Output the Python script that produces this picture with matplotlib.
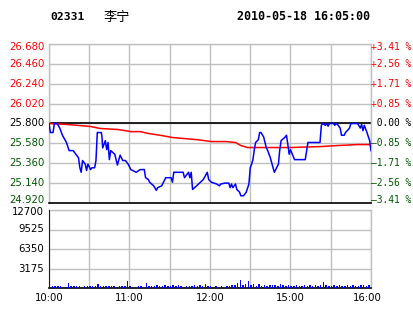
import matplotlib
matplotlib.use("Agg")
import matplotlib.pyplot as plt
import matplotlib.transforms as mtransforms

# ---------------- data ----------------
prev_close = 25.80
price_levels = [24.92, 25.14, 25.36, 25.58, 25.80, 26.02, 26.24, 26.46, 26.68]
pct_labels = ["-3.41 %", "-2.56 %", "-1.71 %", "-0.85 %", " 0.00 %",
              "+0.85 %", "+1.71 %", "+2.56 %", "+3.41 %"]
vol_levels = [0, 3175, 6350, 9525, 12700]
time_ticks = [0, 60, 120, 180, 240]
time_labels = ["10:00", "11:00", "12:00", "15:00", "16:00"]

price_t = [0, 1, 3, 4, 6, 8, 10, 13, 15, 18, 19, 22, 23, 24, 25, 27, 28, 29, 31, 32,
           34, 35, 36, 39, 39.5, 40, 42, 43, 44, 45, 46, 49, 51, 53, 55, 57, 59, 61, 65, 68,
           71, 72, 74, 75, 78, 80, 81, 84, 87, 91, 92, 93, 100, 101, 104, 105, 106, 107, 110, 115,
           118, 119, 121, 125, 127, 128, 131, 134, 135, 136, 137, 139, 140, 142, 143, 145, 147, 149, 150, 151,
           152, 153, 154, 156, 157, 158, 160, 162, 163, 165, 167, 168, 171, 172, 173, 176, 177, 178, 179, 180,
           183, 191, 193, 202, 203, 204, 206, 207, 208, 209, 212, 213, 214, 215, 217, 218, 220, 221, 224, 225,
           230, 232, 233, 234, 235, 237, 239, 240]
price_v = [25.80, 25.70, 25.70, 25.80, 25.80, 25.75, 25.67, 25.59, 25.50, 25.50, 25.48, 25.42, 25.31, 25.26, 25.39, 25.35, 25.28, 25.35, 25.29, 25.31,
           25.31, 25.39, 25.70, 25.70, 25.65, 25.53, 25.61, 25.51, 25.59, 25.40, 25.50, 25.46, 25.34, 25.45, 25.39, 25.39, 25.35, 25.29, 25.26, 25.29,
           25.29, 25.20, 25.18, 25.15, 25.11, 25.06, 25.09, 25.11, 25.20, 25.20, 25.15, 25.26, 25.26, 25.20, 25.26, 25.20, 25.26, 25.07, 25.11, 25.18,
           25.26, 25.18, 25.15, 25.13, 25.11, 25.13, 25.14, 25.14, 25.09, 25.13, 25.09, 25.13, 25.07, 25.04, 25.00, 25.00, 25.04, 25.13, 25.31, 25.35,
           25.40, 25.51, 25.59, 25.62, 25.70, 25.70, 25.65, 25.53, 25.50, 25.42, 25.31, 25.26, 25.35, 25.51, 25.61, 25.65, 25.67, 25.57, 25.46, 25.51,
           25.40, 25.40, 25.59, 25.59, 25.78, 25.80, 25.78, 25.80, 25.77, 25.80, 25.80, 25.78, 25.80, 25.79, 25.75, 25.67, 25.67, 25.70, 25.75, 25.80,
           25.80, 25.75, 25.79, 25.72, 25.78, 25.70, 25.61, 25.50]

avg_t = [0, 13, 21, 31, 38, 51, 57, 61, 68, 74, 84, 92, 111, 121, 132, 139, 143, 148, 180, 203, 215, 230, 240]
avg_v = [25.80, 25.79, 25.78, 25.767, 25.745, 25.734, 25.72, 25.71, 25.71, 25.69, 25.667, 25.645, 25.62, 25.60,
         25.60, 25.59, 25.556, 25.534, 25.534, 25.545, 25.556, 25.567, 25.567]

vol_t = list(range(0, 241, 2))
vol_v = [12700, 300, 250, 300, 350, 0, 200, 800, 250, 350, 300, 400, 0, 250, 350, 300, 400, 350, 650, 400,
         350, 300, 350, 400, 300, 0, 350, 300, 400, 1150, 350, 0, 0, 300, 250, 0, 800, 300, 400, 350,
         450, 400, 350, 500, 400, 350, 450, 300, 500, 400, 0, 300, 400, 350, 450, 300, 500, 400, 650, 350,
         300, 0, 300, 0, 250, 0, 400, 350, 450, 500, 800, 1300, 450, 650, 1150, 500, 650, 400, 650, 300,
         450, 400, 500, 450, 500, 400, 650, 550, 400, 450, 400, 350, 450, 400, 350, 450, 400, 500, 400, 450,
         400, 500, 1000, 450, 400, 350, 500, 400, 450, 400, 350, 450, 400, 500, 400, 350, 450, 500, 400, 550,
         500]

# ---------------- style ----------------
RED = "#ff0000"
GREEN = "#005a00"
GRID = "#c0c0c0"
BLUE = "#0000ff"
W, H = 414, 314

fig = plt.figure(figsize=(W / 100, H / 100), dpi=100)
fig.patch.set_facecolor("white")


def px_axes(l, t, r, b):
    return fig.add_axes([l / W, 1 - b / H, (r - l) / W, (b - t) / H])


def shift(artist, dx_px, dy_px):
    artist.set_transform(artist.get_transform() +
                         mtransforms.ScaledTranslation(dx_px / 100, dy_px / 100, fig.dpi_scale_trans))


ax = px_axes(49, 44, 371, 203)
axv = px_axes(49, 210, 371, 288)

for a in (ax, axv):
    a.set_xlim(0, 240)
    a.set_xticks(range(0, 241, 30))
    a.grid(True, color=GRID, linewidth=1.0)
    a.set_axisbelow(True)
    a.tick_params(length=0)
    for s in ("left", "top", "right"):
        a.spines[s].set_color(GRID)
        a.spines[s].set_linewidth(1.0)
    a.spines["bottom"].set_color("black")
    a.spines["bottom"].set_linewidth(1.2)

# main price panel
ax.set_ylim(price_levels[0], price_levels[-1])
ax.set_yticks(price_levels)
ax.set_xticklabels([])
ax.set_yticklabels([])

ax.axhline(prev_close, color="black", linewidth=1.2, zorder=2)
ax.plot(avg_t, avg_v, color=RED, linewidth=1.1, zorder=3)
ax.plot(price_t, price_v, color=BLUE, linewidth=1.1, zorder=4)

trans = mtransforms.blended_transform_factory(ax.transAxes, ax.transData)
n = len(price_levels)
for i, (v, lab) in enumerate(zip(price_levels, pct_labels)):
    if v > prev_close + 1e-9:
        col = RED
    elif v < prev_close - 1e-9:
        col = GREEN
    else:
        col = "black"
    dy = 3 if i == 0 else (-3 if i == n - 1 else 0)
    tl = ax.text(0.0, v, f"{v:.3f}", transform=trans, ha="right", va="center",
                 fontsize=7.3, family="DejaVu Sans", color=col, clip_on=False)
    shift(tl, -4.5, dy)
    txt = lab.replace("-", "\u2013") if lab.startswith("-") else lab
    tr = ax.text(1.0, v, txt, transform=trans, ha="left", va="center", fontsize=6.9,
                 family="DejaVu Sans Mono", color=col, clip_on=False)
    shift(tr, 0.5, dy)

# volume panel
axv.set_ylim(0, vol_levels[-1])
axv.set_yticks(vol_levels)
axv.set_yticklabels([])
transv = mtransforms.blended_transform_factory(axv.transAxes, axv.transData)
for v in vol_levels[1:]:
    t = axv.text(0.0, v, str(v), transform=transv, ha="right", va="center",
                 fontsize=7.3, family="DejaVu Sans", color="black", clip_on=False)
    shift(t, -5, -2 if v == vol_levels[-1] else 0)

axv.set_xticks(range(0, 241, 30))
axv.set_xticklabels([])
transx = mtransforms.blended_transform_factory(axv.transData, axv.transAxes)
for tt, lab in zip(time_ticks, time_labels):
    t = axv.text(tt, 0.0, lab, transform=transx, ha="center", va="top",
                 fontsize=7.3, family="DejaVu Sans", color="black", clip_on=False)
    shift(t, -4 if tt == time_ticks[-1] else 0, -5)

axv.bar(vol_t, vol_v, width=1.1, align="edge", color=BLUE, zorder=3, linewidth=0)

# title
fig.text(50 / W, 1 - 17 / H, "02331", fontsize=8.2, family="DejaVu Sans Mono",
         fontweight="bold", ha="left", va="center")
fig.text(104 / W, 1 - 17 / H, "李宁", fontsize=9.5, family=["Noto Sans CJK SC", "DejaVu Sans"],
         ha="left", va="center")
fig.text(237 / W, 1 - 17 / H, "2010-05-18 16:05:00", fontsize=8.4, family="DejaVu Sans Mono",
         fontweight="bold", ha="left", va="center")

fig.savefig("out.png", dpi=100, facecolor="white")
